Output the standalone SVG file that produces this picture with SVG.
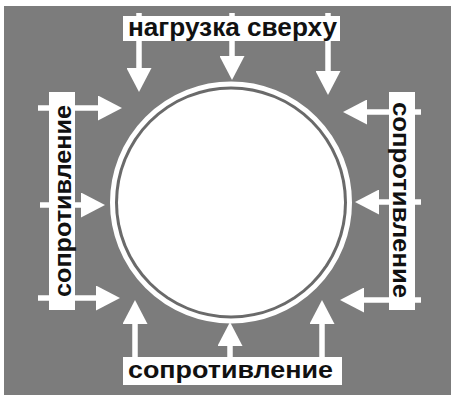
<svg xmlns="http://www.w3.org/2000/svg" width="451" height="395" viewBox="0 0 451 395">
<defs>
<marker id="ah" viewBox="0 0 24 25" refX="12" refY="12.5" markerWidth="24" markerHeight="25" markerUnits="userSpaceOnUse" orient="auto">
<path d="M0,0 L24,12.5 L0,25 z" fill="#ffffff"/>
</marker>
<style>
.bg{fill:#7c7c7c}
.arr{stroke:#ffffff;stroke-width:5.5;fill:none;marker-end:url(#ah)}
.box{fill:#ffffff}
.lbl{font-family:"Liberation Sans",Arial,sans-serif;font-weight:bold;fill:#111111}
</style>
</defs>
<rect x="0" y="0" width="451" height="395" fill="#ffffff"/>
<rect class="bg" x="4" y="6" width="447" height="389"/>
<g id="pipe">
<circle cx="231" cy="202.5" r="118.5" fill="#6a6a6a" stroke="#ffffff" stroke-width="5"/>
<circle cx="231" cy="202.5" r="113" fill="#ffffff"/>
</g>
<g id="connectors">
<line class="arr" x1="139" y1="13" x2="139" y2="80"/>
<line class="arr" x1="232" y1="13" x2="232" y2="68"/>
<line class="arr" x1="328" y1="13" x2="328" y2="83"/>
<line class="arr" x1="38" y1="108" x2="110" y2="108"/>
<line class="arr" x1="40" y1="205" x2="93" y2="205"/>
<line class="arr" x1="38" y1="298" x2="108" y2="298"/>
<line class="arr" x1="421" y1="112" x2="355" y2="112"/>
<line class="arr" x1="421" y1="202" x2="367" y2="202"/>
<line class="arr" x1="421" y1="300" x2="352" y2="300"/>
<line class="arr" x1="135" y1="360" x2="135" y2="312"/>
<line class="arr" x1="230" y1="360" x2="230" y2="334"/>
<line class="arr" x1="322" y1="360" x2="322" y2="312"/>
</g>
<g id="label-top">
<rect class="box" x="123" y="16" width="217" height="25"/>
<text class="lbl" x="128" y="36" font-size="25" textLength="209" lengthAdjust="spacingAndGlyphs">нагрузка сверху</text>
</g>
<g id="label-bottom">
<rect class="box" x="123" y="357" width="219" height="28"/>
<text class="lbl" x="128" y="378" font-size="24" textLength="205" lengthAdjust="spacingAndGlyphs">сопротивление</text>
</g>
<g id="label-left">
<rect class="box" x="49" y="92" width="26" height="218"/>
<text class="lbl" transform="translate(71,297) rotate(-90)" x="0" y="0" font-size="23" textLength="192" lengthAdjust="spacingAndGlyphs">сопротивление</text>
</g>
<g id="label-right">
<rect class="box" x="389" y="92" width="26" height="218"/>
<text class="lbl" transform="translate(393,102) rotate(90)" x="0" y="0" font-size="23" textLength="196" lengthAdjust="spacingAndGlyphs">сопротивление</text>
</g>
</svg>
